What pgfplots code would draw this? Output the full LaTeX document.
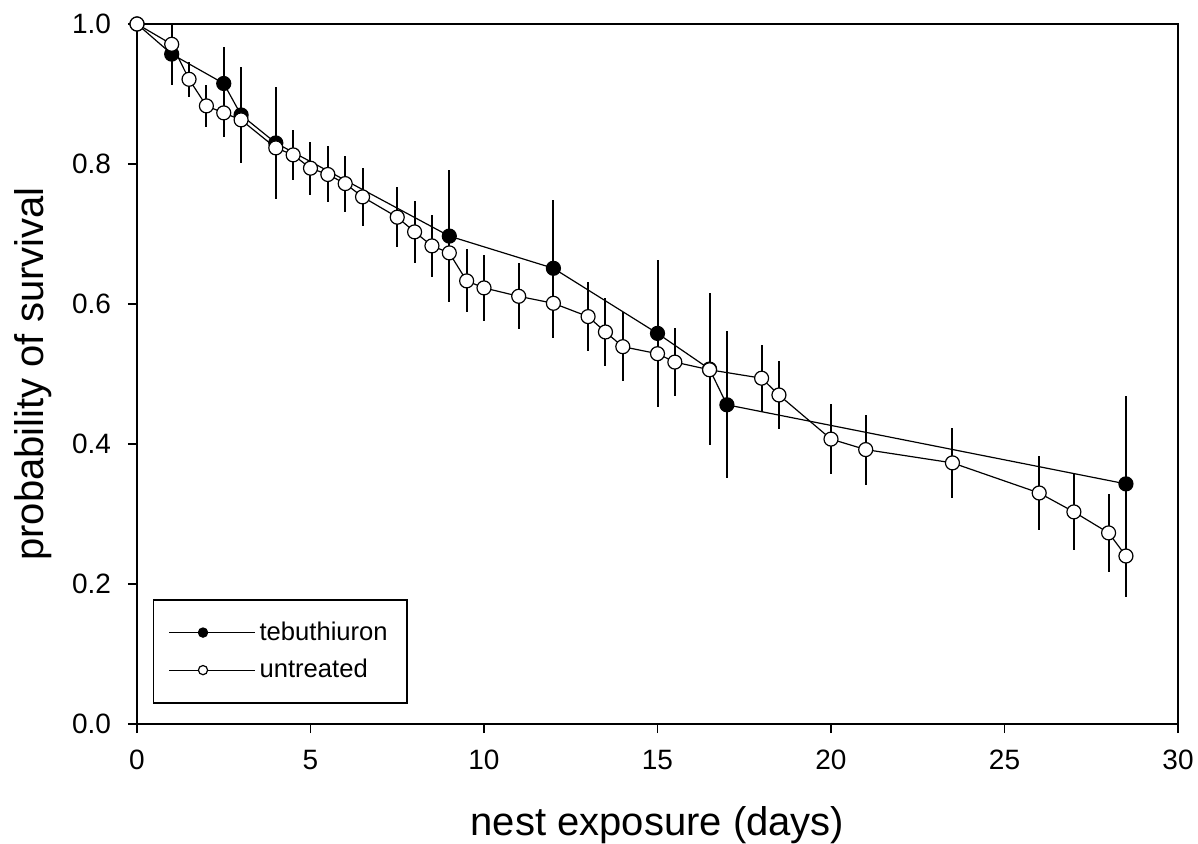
\documentclass[border=0pt]{standalone}
\usepackage{pgfplots}
\pgfplotsset{compat=1.18}
\usepackage{pgfplotstable}
\usepackage{fontspec}
\setmainfont{Liberation Sans}
\pgfplotstableread{
x y e
0 1.000 0
1 0.957 0.044
2.5 0.915 0.052
3 0.870 0.069
4 0.830 0.080
9 0.697 0.094
12 0.651 0.097
15 0.558 0.105
16.5 0.507 0.108
17 0.456 0.105
28.5 0.343 0.125
}\tebu
\pgfplotstableread{
x y e
0 1.000 0
1 0.971 0.03
1.5 0.921 0.025
2 0.883 0.03
2.5 0.873 0.034
3 0.863 0.035
4 0.823 0.04
4.5 0.813 0.036
5 0.794 0.038
5.5 0.785 0.04
6 0.772 0.04
6.5 0.753 0.041
7.5 0.724 0.043
8 0.703 0.044
8.5 0.683 0.044
9 0.673 0.045
9.5 0.633 0.045
10 0.623 0.047
11 0.611 0.047
12 0.601 0.049
13 0.582 0.049
13.5 0.560 0.048
14 0.539 0.049
15 0.529 0.05
15.5 0.517 0.048
16.5 0.506 0.05
18 0.494 0.048
18.5 0.470 0.049
20 0.407 0.05
21 0.392 0.05
23.5 0.373 0.05
26 0.330 0.053
27 0.303 0.055
28 0.273 0.056
28.5 0.240 0.058
}\untr
\begin{document}
\begin{tikzpicture}
\begin{axis}[
  scale only axis,
  width=520.5pt, height=350pt,
  xmin=0, xmax=30, ymin=0, ymax=1,
  xtick={0,5,...,30}, ytick={0,0.2,...,1.0},
  tick align=outside,
  xtick pos=bottom, ytick pos=left,
  major tick length=4.5pt,
  axis line style={line width=1pt},
  tick style={line width=0.8pt, black},
  clip mode=individual,
  /pgf/number format/assume math mode=true,
  yticklabel style={/pgf/number format/fixed, /pgf/number format/precision=1, /pgf/number format/fixed zerofill, font=\fontsize{14}{16}\selectfont, xshift=-5pt},
  xticklabel style={font=\fontsize{14}{16}\selectfont, yshift=-5pt},
  xlabel={nest exposure (days)},
  ylabel={probability of survival},
  xlabel style={font=\fontsize{20}{24}\selectfont, at={(axis description cs:0.5,-0.145)}, anchor=center},
  ylabel style={font=\fontsize{20}{24}\selectfont, at={(axis description cs:-0.1,0.5)}, anchor=center, rotate=0},
  legend style={at={(axis description cs:0.015,0.029)}, anchor=south west, draw=black, line width=0.8pt,
    font=\fontsize{12.8}{15}\selectfont, inner xsep=7.5pt, inner ysep=9pt, row sep=4pt, cells={anchor=west}},
  legend image code/.code={
    \path (0pt,0pt) -- (43pt,0pt);
    \draw[line width=0.6pt] (0pt,0pt) -- (34pt,0pt);
    \draw[mark size=2.3pt, line width=0.6pt] plot coordinates {(17pt,0pt)};
  },
]
\coordinate (SW) at (rel axis cs:0,0);
\coordinate (NE) at (rel axis cs:1,1);
\addplot[black, line width=0.6pt, mark=*, mark size=3.5pt, mark options={fill=black},
  error bars/.cd, y dir=both, y explicit, error mark=none, error bar style={line width=1pt, black}]
  table[x=x, y=y, y error=e] {\tebu};
\addlegendentry{tebuthiuron}
\addplot[black, line width=0.6pt, mark=*, mark size=3.5pt, mark options={fill=white},
  error bars/.cd, y dir=both, y explicit, error mark=none, error bar style={line width=1pt, black}]
  table[x=x, y=y, y error=e] {\untr};
\addlegendentry{untreated}
\end{axis}
\pgfresetboundingbox
\path (SW) ++(-68.5pt,-60pt) coordinate (BL);
\path (NE) ++(10pt,12pt) coordinate (TR);
\path (BL) rectangle (TR);
\end{tikzpicture}
\end{document}
